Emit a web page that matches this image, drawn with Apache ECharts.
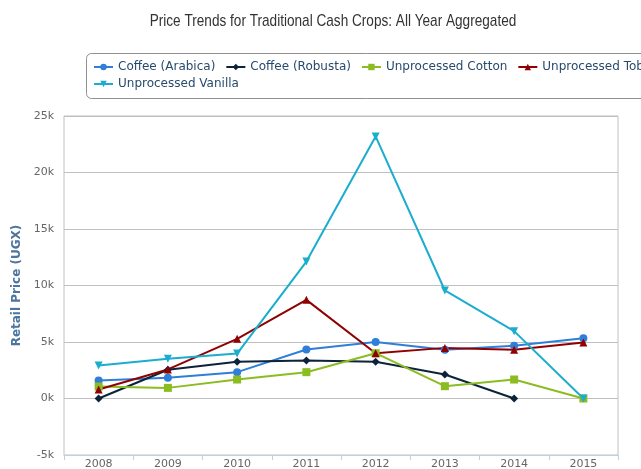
<!DOCTYPE html>
<html>
<head>
<meta charset="utf-8">
<script src="https://cdn.jsdelivr.net/npm/echarts@6/dist/echarts.min.js"></script>
<style>
  html, body { margin: 0; padding: 0; background: #fff; }
  #chart { width: 641px; height: 469px; }
</style>
</head>
<body>
<div id="chart"></div>
<script>
// years on the x axis
var years = ['2008', '2009', '2010', '2011', '2012', '2013', '2014', '2015']

// retail price (UGX)
var arabica = [1590, 1830, 2330, 4340, 5010, 4310, 4660, 5340]
var robusta = [0, 2540, 3250, 3360, 3250, 2120, 0, null]
var cotton = [1060, 940, 1680, 2330, 4010, 1090, 1680, 0]
var tobacco = [800, 2570, 5280, 8730, 4010, 4480, 4310, 4960]
var vanilla = [2920, 3510, 3980, 12120, 23190, 9560, 5960, 0]

var seriesNames = ['Coffee (Arabica)', 'Coffee (Robusta)', 'Unprocessed Cotton', 'Unprocessed Tobacco', 'Unprocessed Vanilla']

var yTicks = [-5000, 0, 5000, 10000, 15000, 20000, 25000]

var font = 'DejaVu Sans'

function makeLine(name, data, color, symbol) {
  return {
    name: name,
    type: 'line',
    data: data,
    color: color,
    symbol: symbol,
    symbolSize: 8,
    showSymbol: true,
    lineStyle: { width: 2, color: color },
    itemStyle: { color: color },
    emphasis: { disabled: true },
    animation: false
  }
}

// legend rows share one look; wide so the first row never wraps
function makeLegend(names, top) {
  return {
    data: names,
    left: 93,
    top: top,
    width: 900,
    padding: 0,
    itemGap: 10,
    itemWidth: 19,
    itemHeight: 8,
    textStyle: { fontFamily: font, fontSize: 12, color: '#274b6d' }
  }
}

var chartDom = document.getElementById('chart')
var myChart = echarts.init(chartDom)

var option = {
  backgroundColor: '#fff',
  graphic: [
    // title as graphic text so it can be narrowed like the original condensed face
    {
      type: 'text',
      x: 333,
      y: 21,
      scaleX: 0.8,
      style: {
        text: 'Price Trends for Traditional Cash Crops: All Year Aggregated',
        fontFamily: 'Liberation Sans',
        fontSize: 17,
        fill: '#333',
        align: 'center',
        verticalAlign: 'middle'
      }
    },
    // legend frame
    {
      type: 'rect',
      shape: { x: 86.5, y: 53.5, width: 620, height: 45, r: 5 },
      style: { fill: 'none', stroke: '#909090', lineWidth: 1 },
      z: 1
    }
  ],
  legend: [
    makeLegend(seriesNames.slice(0, 4), 61),
    makeLegend(seriesNames.slice(4), 78)
  ],
  grid: {
    show: true,
    left: 64,
    right: 23,
    top: 116,
    bottom: 14,
    borderColor: '#C0C0C0',
    borderWidth: 1,
    containLabel: false,
    outerBoundsMode: 'none'
  },
  xAxis: {
    type: 'category',
    data: years,
    boundaryGap: true,
    axisLine: { onZero: false, lineStyle: { color: '#C0D0E0', width: 1 } },
    axisTick: { show: true, length: 5, lineStyle: { color: '#C0D0E0' } },
    axisLabel: { color: '#666', fontFamily: font, fontSize: 11, margin: 4 }
  },
  yAxis: {
    type: 'value',
    min: yTicks[0],
    max: yTicks[yTicks.length - 1],
    interval: 5000,
    name: 'Retail Price (UGX)',
    nameLocation: 'middle',
    nameGap: 38,
    nameTextStyle: { color: '#4d759e', fontFamily: font, fontSize: 12, fontWeight: 'bold' },
    axisLine: { show: false },
    axisTick: { show: false },
    splitLine: { lineStyle: { color: '#C0C0C0', width: 1 } },
    axisLabel: {
      color: '#666',
      fontFamily: font,
      fontSize: 11,
      margin: 10,
      formatter: function(v) { return (v / 1000) + 'k' }
    }
  },
  series: [
    makeLine(seriesNames[0], arabica, '#2f7ed8', 'circle'),
    makeLine(seriesNames[1], robusta, '#0d233a', 'diamond'),
    makeLine(seriesNames[2], cotton, '#8bbc21', 'rect'),
    makeLine(seriesNames[3], tobacco, '#910000', 'triangle'),
    makeLine(seriesNames[4], vanilla, '#1aadce', 'path://M0,0 L10,0 L5,10 Z')
  ]
}

option && myChart.setOption(option)
</script>
</body>
</html>
